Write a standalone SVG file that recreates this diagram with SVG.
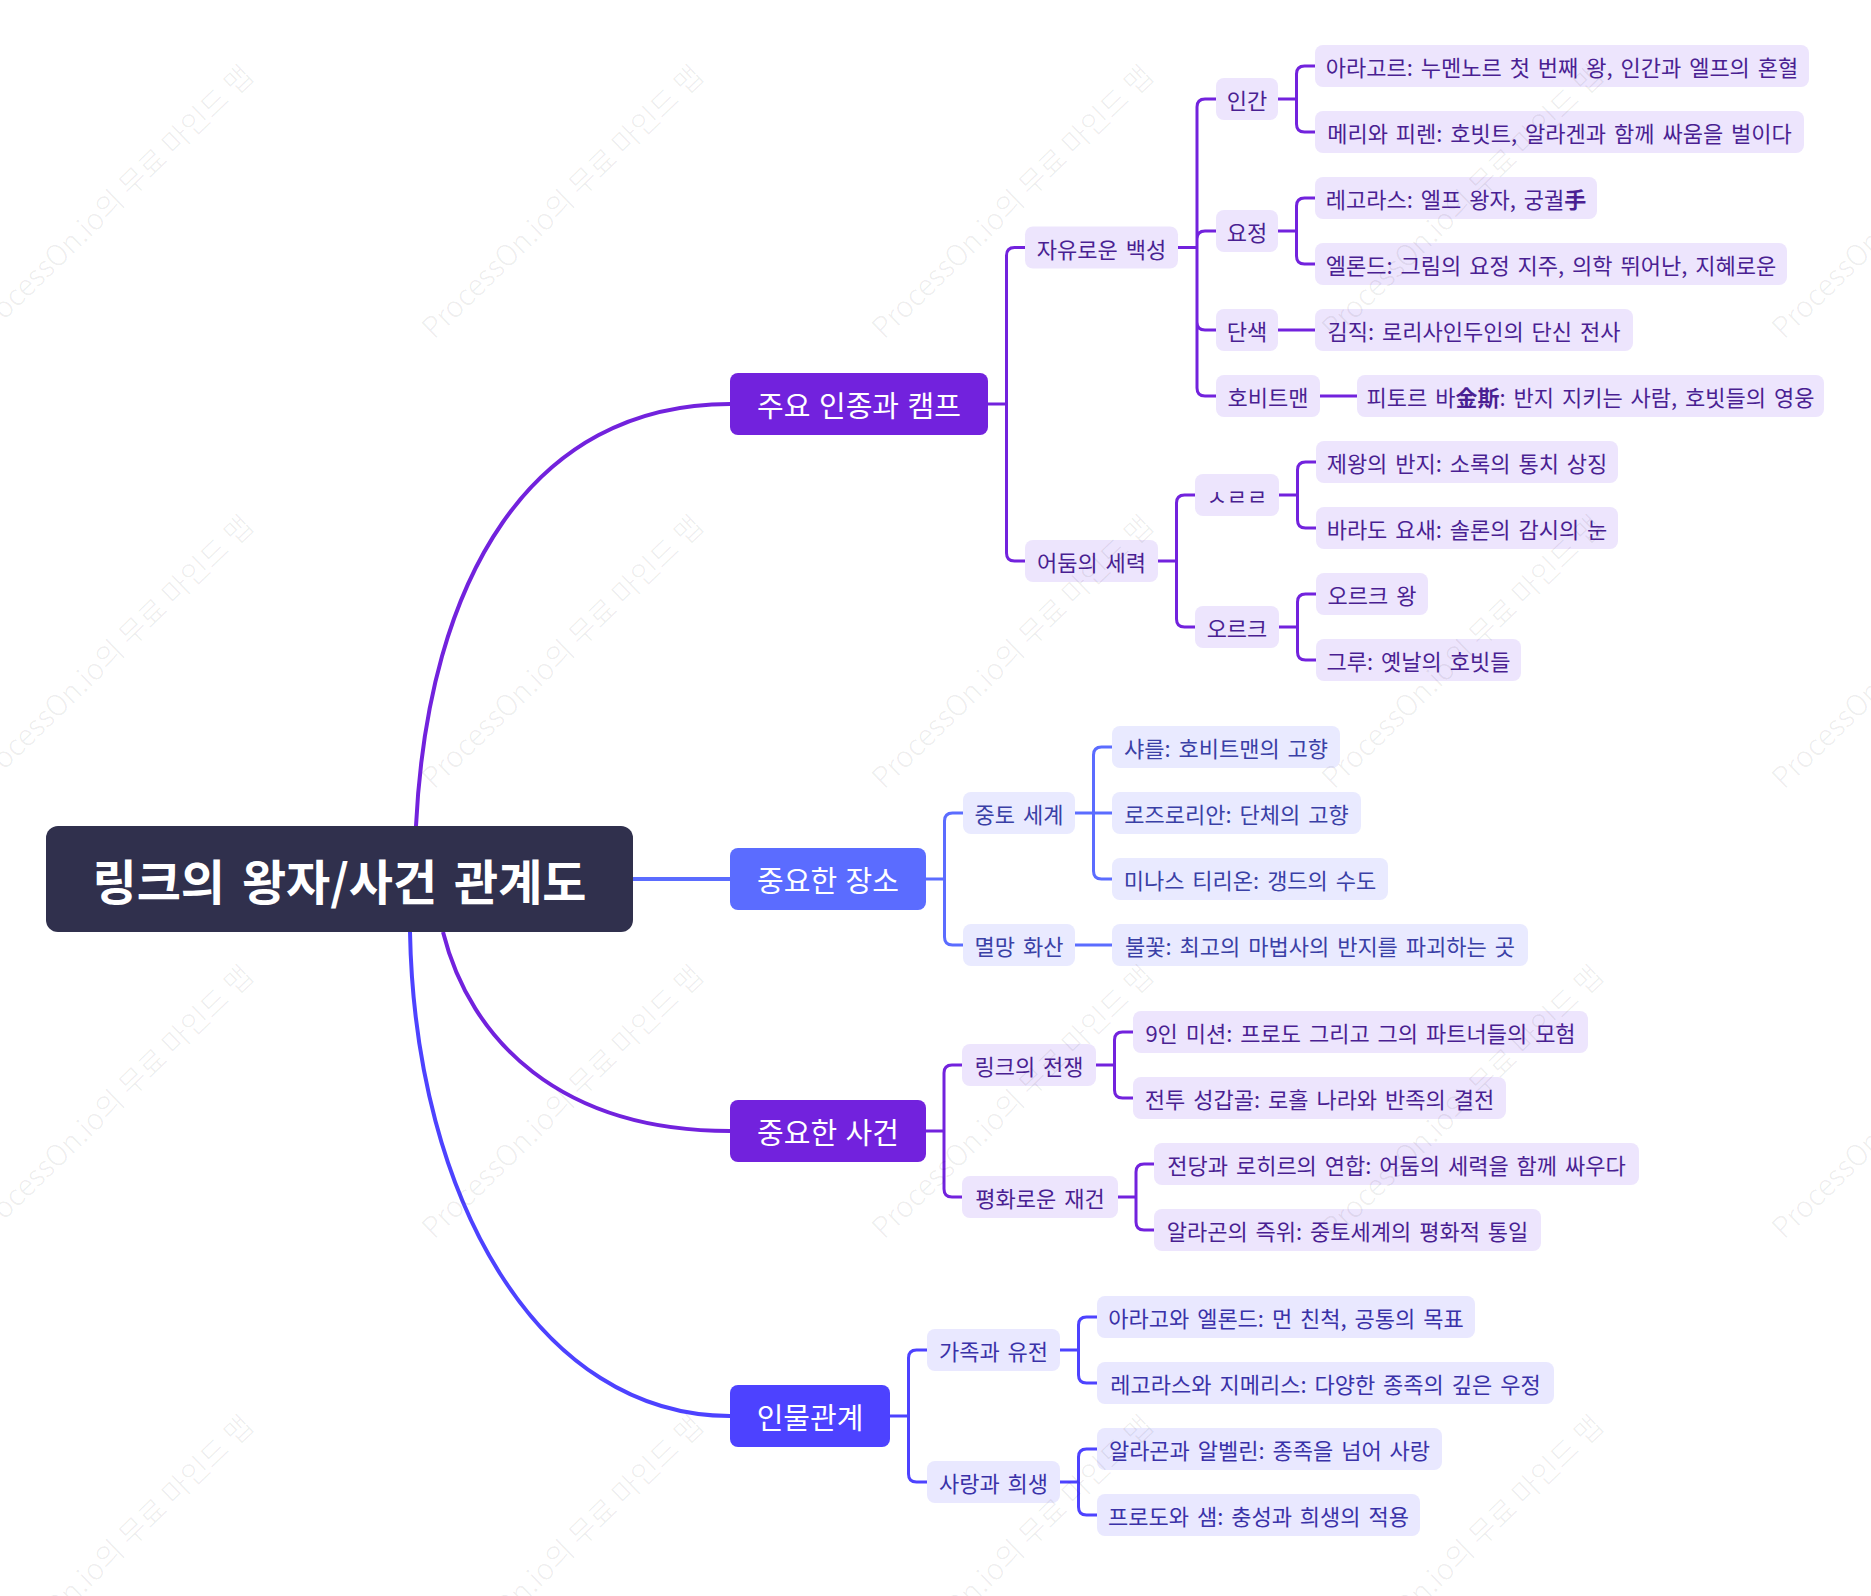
<svg xmlns="http://www.w3.org/2000/svg" width="1871" height="1596" viewBox="0 0 1871 1596">
<style>
text{font-family:'Noto Sans CJK KR','Noto Sans',sans-serif;text-anchor:middle;dominant-baseline:central}
.root rect{fill:#30304d}
.root text{fill:#fff;font-size:48px;font-weight:bold;word-spacing:6px}
.l1 text{fill:#fff;font-size:29px;word-spacing:2px}
.c text{font-size:22px;word-spacing:3px}
.p.l1 rect{fill:#7222dd}
.b.l1 rect{fill:#5b6cff}
.v.l1 rect{fill:#4d42ff}
.p.c rect{fill:#ede5fd}
.p.c text{fill:#4a1f92}
.b.c rect{fill:#e9eaff}
.b.c text{fill:#3a40a6}
.v.c rect{fill:#e9e8ff}
.v.c text{fill:#3a32a8}
.cn path{fill:none;stroke-width:3}
.cn .root-link{stroke-width:4}
.cn .sp{stroke:#7222dd}
.cn .sb{stroke:#5b6cff}
.cn .sv{stroke:#4d42ff}
.wm text{fill:#000;fill-opacity:0.08;font-size:29px;font-weight:300;text-anchor:start;dominant-baseline:auto}
</style>
<rect width="1871" height="1596" fill="#fff"/>
<g id="connectors" class="cn">
<path class="root-link sp" d="M416,826 C428,580 530,404 730,404"/>
<path class="root-link sb" d="M633,879 H730"/>
<path class="root-link sp" d="M443,932 C470,1040 560,1131 730,1131"/>
<path class="root-link sv" d="M410,932 C415,1200 540,1416 730,1416"/>
<path class="sp" d="M988,404 H1006.5 M1006.5,404 V255.5 Q1006.5,247.5 1014.5,247.5 H1025 M1006.5,404 V553 Q1006.5,561 1014.5,561 H1025"/>
<path class="sp" d="M1178,247.5 H1197 M1197,247.5 V107 Q1197,99 1205,99 H1216 M1197,247.5 V239 Q1197,231 1205,231 H1216 M1197,247.5 V322 Q1197,330 1205,330 H1216 M1197,247.5 V388 Q1197,396 1205,396 H1216"/>
<path class="sp" d="M1278,99 H1296.5 M1296.5,99 V74 Q1296.5,66 1304.5,66 H1315 M1296.5,99 V124 Q1296.5,132 1304.5,132 H1315"/>
<path class="sp" d="M1278,231 H1296.5 M1296.5,231 V206 Q1296.5,198 1304.5,198 H1315 M1296.5,231 V256 Q1296.5,264 1304.5,264 H1315"/>
<path class="sp" d="M1278,330 H1315"/>
<path class="sp" d="M1320,396 H1357"/>
<path class="sp" d="M1158,561 H1176.5 M1176.5,561 V503 Q1176.5,495 1184.5,495 H1195 M1176.5,561 V619 Q1176.5,627 1184.5,627 H1195"/>
<path class="sp" d="M1279,495 H1297.5 M1297.5,495 V470 Q1297.5,462 1305.5,462 H1316 M1297.5,495 V520 Q1297.5,528 1305.5,528 H1316"/>
<path class="sp" d="M1279,627 H1297.5 M1297.5,627 V602 Q1297.5,594 1305.5,594 H1316 M1297.5,627 V652 Q1297.5,660 1305.5,660 H1316"/>
<path class="sb" d="M926,879 H944.5 M944.5,879 V821 Q944.5,813 952.5,813 H963 M944.5,879 V937 Q944.5,945 952.5,945 H963"/>
<path class="sb" d="M1075,813 H1112 M1093.5,813 V755 Q1093.5,747 1101.5,747 H1112 M1093.5,813 V871 Q1093.5,879 1101.5,879 H1112"/>
<path class="sb" d="M1075,945 H1112"/>
<path class="sp" d="M926,1131 H944 M944,1131 V1073 Q944,1065 952,1065 H962 M944,1131 V1189 Q944,1197 952,1197 H962"/>
<path class="sp" d="M1096,1065 H1114.5 M1114.5,1065 V1040 Q1114.5,1032 1122.5,1032 H1133 M1114.5,1065 V1090 Q1114.5,1098 1122.5,1098 H1133"/>
<path class="sp" d="M1118,1197 H1136 M1136,1197 V1172 Q1136,1164 1144,1164 H1154 M1136,1197 V1222 Q1136,1230 1144,1230 H1154"/>
<path class="sv" d="M890,1416 H908.5 M908.5,1416 V1358 Q908.5,1350 916.5,1350 H927 M908.5,1416 V1474 Q908.5,1482 916.5,1482 H927"/>
<path class="sv" d="M1060,1350 H1078.5 M1078.5,1350 V1325 Q1078.5,1317 1086.5,1317 H1097 M1078.5,1350 V1375 Q1078.5,1383 1086.5,1383 H1097"/>
<path class="sv" d="M1060,1482 H1078.5 M1078.5,1482 V1457 Q1078.5,1449 1086.5,1449 H1097 M1078.5,1482 V1507 Q1078.5,1515 1086.5,1515 H1097"/>
</g>
<g id="root" class="root"><rect x="46" y="826" width="587" height="106" rx="12"/><text x="339.5" y="879">링크의 왕자/사건 관계도</text></g>
<g id="n-races" class="l1 p"><rect x="730" y="373" width="258" height="62" rx="8"/><text x="859" y="404">주요 인종과 캠프</text></g>
<g id="n-places" class="l1 b"><rect x="730" y="848" width="196" height="62" rx="8"/><text x="828" y="879">중요한 장소</text></g>
<g id="n-events" class="l1 p"><rect x="730" y="1100" width="196" height="62" rx="8"/><text x="828" y="1131">중요한 사건</text></g>
<g id="n-relations" class="l1 v"><rect x="730" y="1385" width="160" height="62" rx="8"/><text x="810" y="1416">인물관계</text></g>
<g id="n-free" class="c p"><rect x="1025" y="226.5" width="153" height="42" rx="8"/><text x="1101.5" y="247.5">자유로운 백성</text></g>
<g id="n-dark" class="c p"><rect x="1025" y="540" width="133" height="42" rx="8"/><text x="1091.5" y="561">어둠의 세력</text></g>
<g id="n-human" class="c p"><rect x="1216" y="78" width="62" height="42" rx="8"/><text x="1247" y="99">인간</text></g>
<g id="n-elf" class="c p"><rect x="1216" y="210" width="62" height="42" rx="8"/><text x="1247" y="231">요정</text></g>
<g id="n-dwarf" class="c p"><rect x="1216" y="309" width="62" height="42" rx="8"/><text x="1247" y="330">단색</text></g>
<g id="n-hobbit" class="c p"><rect x="1216" y="375" width="104" height="42" rx="8"/><text x="1268" y="396">호비트맨</text></g>
<g id="n-srr" class="c p"><rect x="1195" y="474" width="84" height="42" rx="8"/><text x="1237" y="495">ㅅㄹㄹ</text></g>
<g id="n-orc" class="c p"><rect x="1195" y="606" width="84" height="42" rx="8"/><text x="1237" y="627">오르크</text></g>
<g id="n-aragorn" class="c p"><rect x="1315" y="45" width="494" height="42" rx="8"/><text x="1562" y="66">아라고르: 누멘노르 첫 번째 왕, 인간과 엘프의 혼혈</text></g>
<g id="n-merry" class="c p"><rect x="1315" y="111" width="489" height="42" rx="8"/><text x="1559.5" y="132">메리와 피렌: 호빗트, 알라겐과 함께 싸움을 벌이다</text></g>
<g id="n-legolas" class="c p"><rect x="1315" y="177" width="282" height="42" rx="8"/><text x="1456" y="198">레고라스: 엘프 왕자, 궁궐<tspan font-weight="bold">手</tspan></text></g>
<g id="n-elrond" class="c p"><rect x="1315" y="243" width="472" height="42" rx="8"/><text x="1551" y="264">엘론드: 그림의 요정 지주, 의학 뛰어난, 지혜로운</text></g>
<g id="n-gimli" class="c p"><rect x="1315" y="309" width="318" height="42" rx="8"/><text x="1474" y="330">김직: 로리사인두인의 단신 전사</text></g>
<g id="n-bilbo" class="c p"><rect x="1357" y="375" width="467" height="42" rx="8"/><text x="1590.5" y="396">피토르 바<tspan font-weight="bold">金斯</tspan>: 반지 지키는 사람, 호빗들의 영웅</text></g>
<g id="n-ring" class="c p"><rect x="1316" y="441" width="302" height="42" rx="8"/><text x="1467" y="462">제왕의 반지: 소록의 통치 상징</text></g>
<g id="n-baradur" class="c p"><rect x="1316" y="507" width="302" height="42" rx="8"/><text x="1467" y="528">바라도 요새: 솔론의 감시의 눈</text></g>
<g id="n-orcking" class="c p"><rect x="1316" y="573" width="112" height="42" rx="8"/><text x="1372" y="594">오르크 왕</text></g>
<g id="n-gru" class="c p"><rect x="1316" y="639" width="205" height="42" rx="8"/><text x="1418.5" y="660">그루: 옛날의 호빗들</text></g>
<g id="n-middle" class="c b"><rect x="963" y="792" width="112" height="42" rx="8"/><text x="1019" y="813">중토 세계</text></g>
<g id="n-doom" class="c b"><rect x="963" y="924" width="112" height="42" rx="8"/><text x="1019" y="945">멸망 화산</text></g>
<g id="n-shire" class="c b"><rect x="1112" y="726" width="228" height="42" rx="8"/><text x="1226" y="747">샤를: 호비트맨의 고향</text></g>
<g id="n-lorien" class="c b"><rect x="1112" y="792" width="249" height="42" rx="8"/><text x="1236.5" y="813">로즈로리안: 단체의 고향</text></g>
<g id="n-minas" class="c b"><rect x="1112" y="858" width="276" height="42" rx="8"/><text x="1250" y="879">미나스 티리온: 갱드의 수도</text></g>
<g id="n-fire" class="c b"><rect x="1112" y="924" width="416" height="42" rx="8"/><text x="1320" y="945">불꽃: 최고의 마법사의 반지를 파괴하는 곳</text></g>
<g id="n-war" class="c p"><rect x="962" y="1044" width="134" height="42" rx="8"/><text x="1029" y="1065">링크의 전쟁</text></g>
<g id="n-peace" class="c p"><rect x="962" y="1176" width="156" height="42" rx="8"/><text x="1040" y="1197">평화로운 재건</text></g>
<g id="n-nine" class="c p"><rect x="1133" y="1011" width="455" height="42" rx="8"/><text x="1360.5" y="1032">9인 미션: 프로도 그리고 그의 파트너들의 모험</text></g>
<g id="n-battle" class="c p"><rect x="1133" y="1077" width="373" height="42" rx="8"/><text x="1319.5" y="1098">전투 성갑골: 로홀 나라와 반족의 결전</text></g>
<g id="n-alliance" class="c p"><rect x="1154" y="1143" width="485" height="42" rx="8"/><text x="1396.5" y="1164">전당과 로히르의 연합: 어둠의 세력을 함께 싸우다</text></g>
<g id="n-crown" class="c p"><rect x="1154" y="1209" width="387" height="42" rx="8"/><text x="1347.5" y="1230">알라곤의 즉위: 중토세계의 평화적 통일</text></g>
<g id="n-family" class="c v"><rect x="927" y="1329" width="133" height="42" rx="8"/><text x="993.5" y="1350">가족과 유전</text></g>
<g id="n-love" class="c v"><rect x="927" y="1461" width="133" height="42" rx="8"/><text x="993.5" y="1482">사랑과 희생</text></g>
<g id="n-ar-el" class="c v"><rect x="1097" y="1296" width="378" height="42" rx="8"/><text x="1286" y="1317">아라고와 엘론드: 먼 친척, 공통의 목표</text></g>
<g id="n-le-gi" class="c v"><rect x="1097" y="1362" width="457" height="42" rx="8"/><text x="1325.5" y="1383">레고라스와 지메리스: 다양한 종족의 깊은 우정</text></g>
<g id="n-ar-ar" class="c v"><rect x="1097" y="1428" width="345" height="42" rx="8"/><text x="1269.5" y="1449">알라곤과 알벨린: 종족을 넘어 사랑</text></g>
<g id="n-fr-sa" class="c v"><rect x="1097" y="1494" width="323" height="42" rx="8"/><text x="1258.5" y="1515">프로도와 샘: 충성과 희생의 적용</text></g>
<g id="watermark" class="wm">
<text transform="translate(-16,340) rotate(-44)">ProcessOn.io의 무료 마인드 맵</text>
<text transform="translate(434,340) rotate(-44)">ProcessOn.io의 무료 마인드 맵</text>
<text transform="translate(884,340) rotate(-44)">ProcessOn.io의 무료 마인드 맵</text>
<text transform="translate(1334,340) rotate(-44)">ProcessOn.io의 무료 마인드 맵</text>
<text transform="translate(1784,340) rotate(-44)">ProcessOn.io의 무료 마인드 맵</text>
<text transform="translate(-16,790) rotate(-44)">ProcessOn.io의 무료 마인드 맵</text>
<text transform="translate(434,790) rotate(-44)">ProcessOn.io의 무료 마인드 맵</text>
<text transform="translate(884,790) rotate(-44)">ProcessOn.io의 무료 마인드 맵</text>
<text transform="translate(1334,790) rotate(-44)">ProcessOn.io의 무료 마인드 맵</text>
<text transform="translate(1784,790) rotate(-44)">ProcessOn.io의 무료 마인드 맵</text>
<text transform="translate(-16,1240) rotate(-44)">ProcessOn.io의 무료 마인드 맵</text>
<text transform="translate(434,1240) rotate(-44)">ProcessOn.io의 무료 마인드 맵</text>
<text transform="translate(884,1240) rotate(-44)">ProcessOn.io의 무료 마인드 맵</text>
<text transform="translate(1334,1240) rotate(-44)">ProcessOn.io의 무료 마인드 맵</text>
<text transform="translate(1784,1240) rotate(-44)">ProcessOn.io의 무료 마인드 맵</text>
<text transform="translate(-16,1690) rotate(-44)">ProcessOn.io의 무료 마인드 맵</text>
<text transform="translate(434,1690) rotate(-44)">ProcessOn.io의 무료 마인드 맵</text>
<text transform="translate(884,1690) rotate(-44)">ProcessOn.io의 무료 마인드 맵</text>
<text transform="translate(1334,1690) rotate(-44)">ProcessOn.io의 무료 마인드 맵</text>
</g>
</svg>
